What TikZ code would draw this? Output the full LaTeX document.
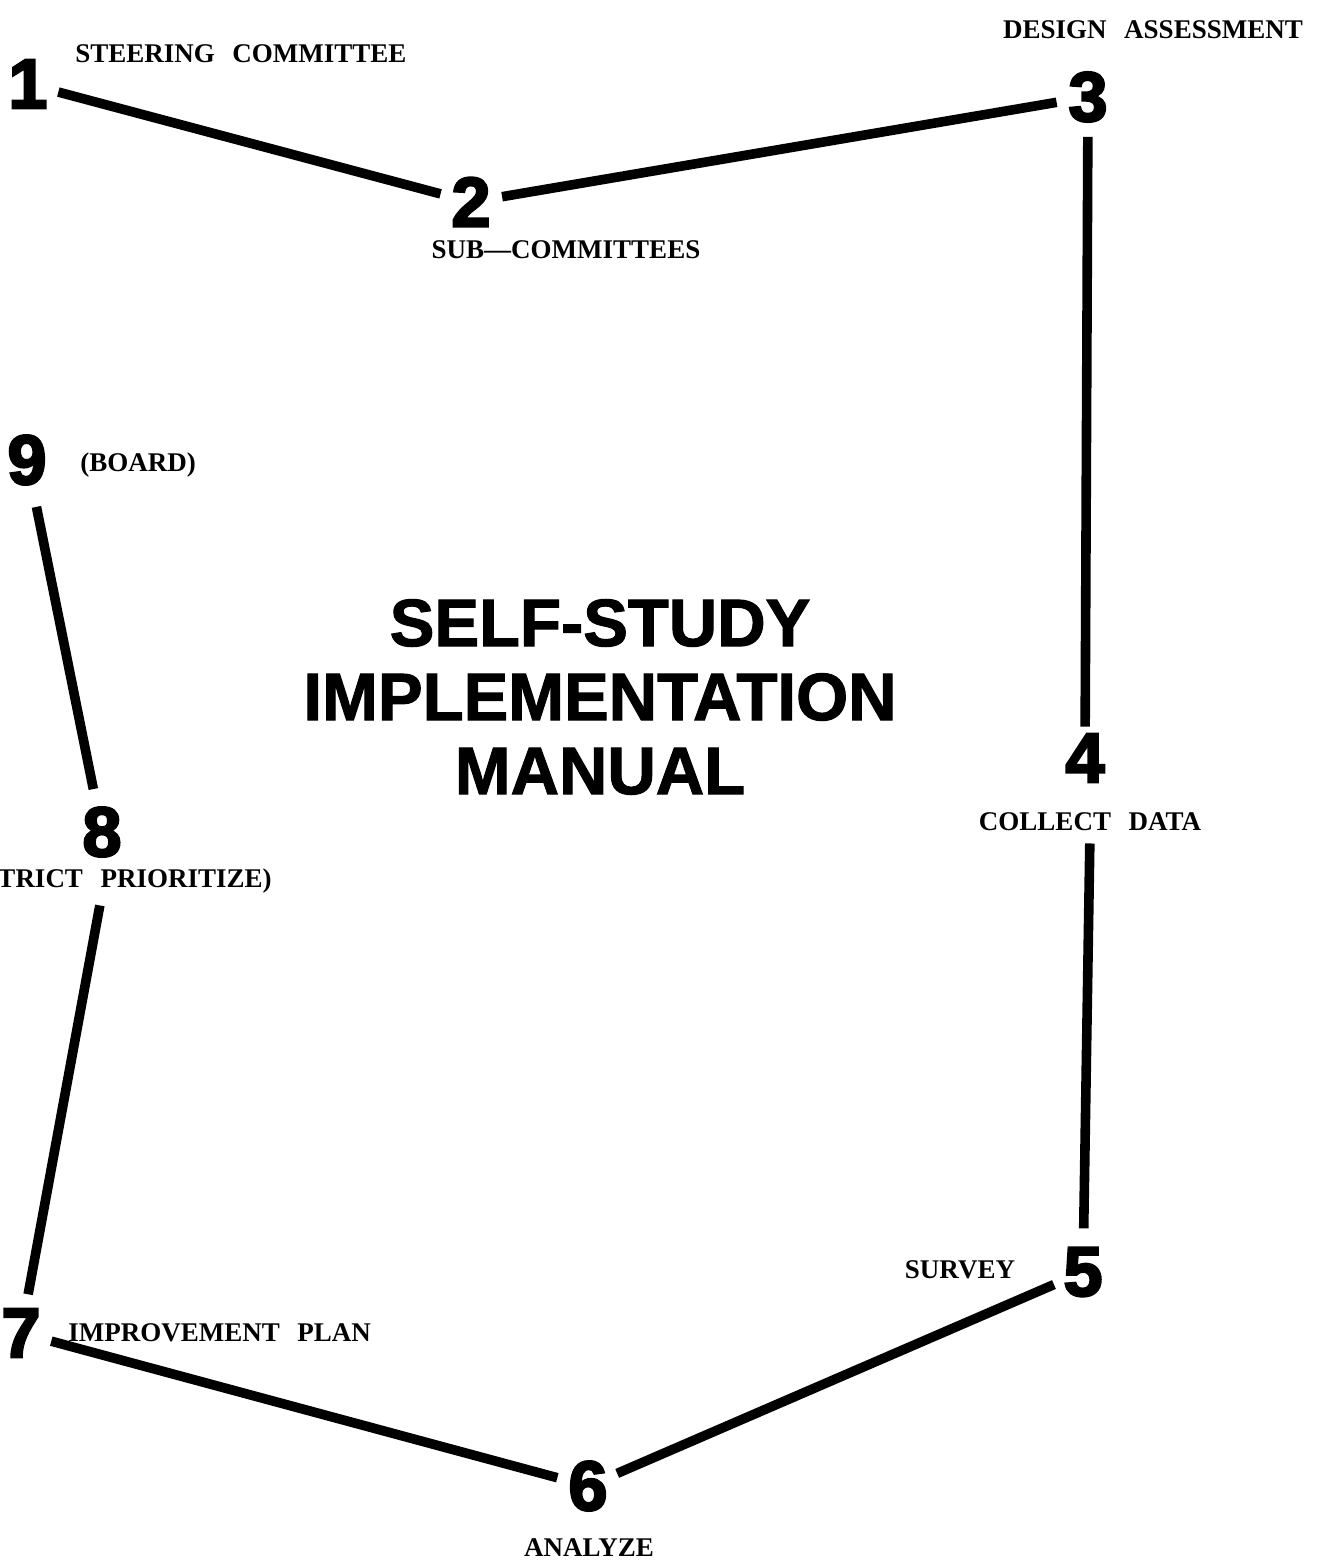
\documentclass[tikz,border=0pt]{standalone}
\usepackage{fontspec}
\setmainfont{Liberation Serif}
\newfontfamily\digitfont[FakeBold=3.5]{Liberation Sans Bold}
\newfontfamily\titlefont[FakeBold=1.6]{Liberation Sans Bold}
\usetikzlibrary{positioning,calc}
\newcommand{\wgap}{\hspace{0.65em}}
\tikzset{
  digit/.style={circle,inner sep=0pt,minimum size=30pt,font=\digitfont\fontsize{35}{35}\selectfont},
  steplabel/.style={inner sep=0pt,font=\bfseries\fontsize{13.5}{14}\selectfont},
  link/.style={line width=4.8pt,black}
}
\begin{document}
\begin{tikzpicture}[x=0.5pt,y=-0.5pt]
  \useasboundingbox (0,0) rectangle (1316,1566);
  % 数字
  \node[digit] (n1) at (28,84) {1};
  \node[digit] (n2) at (471,202) {2};
  \node[digit] (n3) at (1088,97) {3};
  \node[digit] (n4) at (1085,758) {4};
  \node[digit] (n5) at (1083,1272) {5};
  \node[digit] (n6) at (588,1486) {6};
  \node[digit] (n7) at (21,1333) {7};
  \node[digit] (n8) at (102,832) {8};
  \node[digit] (n9) at (27,460) {9};

  % 说明文字
  \node[steplabel,anchor=west] (lab1) at (75,54) {STEERING\wgap COMMITTEE};
  \node[steplabel] (lab2) at (566,250) {SUB---COMMITTEES};
  \node[steplabel] (lab3) at (1153,30) {DESIGN\wgap ASSESSMENT};
  \node[steplabel] (lab4) at (1090,822) {COLLECT\wgap DATA};
  \node[steplabel] (lab5) at (960,1270) {SURVEY};
  \node[steplabel] (lab6) at (589,1548) {ANALYZE};
  \node[steplabel,anchor=west] (lab7) at (68,1333) {IMPROVEMENT\wgap PLAN};
  \node[steplabel,anchor=east] (lab8) at (272,881) {TRICT\wgap PRIORITIZE)};
  \node[steplabel,anchor=west] (lab9) at (80,465) {(BOARD)};

  % 标题
  \node[align=center,font=\titlefont\fontsize{33.5}{37}\selectfont] (title) at (600,697)
    {SELF-STUDY\\IMPLEMENTATION\\MANUAL};

  % 连线
  \draw[link] (n1) -- (n2);
  \draw[link] (n2) -- (n3);
  \draw[link,shorten <=4pt] (n3) -- (n4);
  \draw[link,shorten <=6pt,shorten >=6pt] (lab4.south) -- (n5);
  \draw[link] (n5) -- (n6);
  \draw[link] (n6) -- (n7);
  \draw[link,shorten <=4pt,shorten >=6pt] (n7) -- (n8 |- lab8.south);
  \draw[link,shorten <=6pt,shorten >=8pt] (n8) -- (n9);
\end{tikzpicture}
\end{document}
